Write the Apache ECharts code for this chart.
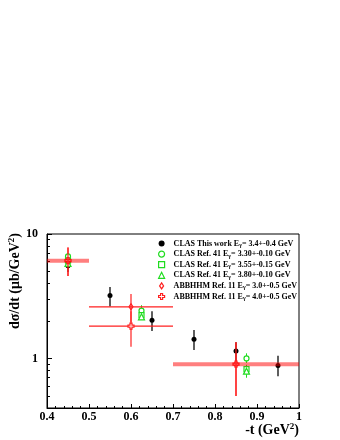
<!DOCTYPE html>
<html><head><meta charset="utf-8">
<script src="https://cdn.jsdelivr.net/npm/echarts@6/dist/echarts.min.js"></script>
<style>html,body{margin:0;padding:0;background:#fff}#c{width:340px;height:440px}</style>
</head><body><div id="c"></div>
<script>
const FONT = 'Liberation Serif';

// axis ticks
const xMin = 0.4, xMax = 1.0, xStep = 0.1;
const yMin = 0.4, yMax = 10;
const yMajorTicks = [1, 10];
const yMinorTicks = [0.5, 0.6, 0.7, 0.8, 0.9, 2, 3, 4, 5, 6, 7, 8, 9];

// CLAS this work (E = 3.4 +- 0.4 GeV)
const clasX  = [0.45, 0.55, 0.65, 0.75, 0.85, 0.95];
const clasY  = [5.55, 3.2, 2.03, 1.43, 1.15, 0.88];
const clasLo = [4.95, 2.62, 1.66, 1.17, 0.95, 0.72];
const clasHi = [6.2, 3.75, 2.4, 1.69, 1.35, 1.05];

// CLAS Ref. 41
const ref41X   = [0.45, 0.625, 0.875];
const ref330Y  = [6.6, 2.42, 1.0];
const ref330Lo = [6.2, 2.24, 0.92];
const ref330Hi = [7.0, 2.68, 1.1];
const ref355Y  = [6.1, 2.23, 0.82];
const ref355Lo = [5.75, 2.09, 0.75];
const ref355Hi = [6.45, 2.38, 0.89];
const ref380Y  = [5.8, 2.16, 0.79];
const ref380Lo = [5.45, 2.07, 0.70];
const ref380Hi = [6.15, 2.28, 0.86];

// ABBHHM Ref. 11
const abbX   = [0.45, 0.6, 0.85];
const abbXLo = [0.4, 0.5, 0.7];
const abbXHi = [0.5, 0.7, 1.0];
const abb30Y  = [6.1, 2.6, 0.9];
const abb30Lo = [4.6, 1.95, 0.5];
const abb30Hi = [7.8, 3.3, 1.35];
const abb40Y  = [6.1, 1.82, 0.9];
const abb40Lo = [4.6, 1.24, 0.5];
const abb40Hi = [7.8, 2.4, 1.35];

// legend text
const legendPre = ['CLAS This work E', 'CLAS Ref. 41 E', 'CLAS Ref. 41 E', 'CLAS Ref. 41 E', 'ABBHHM Ref. 11 E', 'ABBHHM Ref. 11 E'];
const legendSub = ['\u03b3', '\u03b3', '\u03b3', '\u03b3', '\u03b3', '\u03b3'];
const legendPost = ['= 3.4+-0.4 GeV', '= 3.30+-0.10 GeV', '= 3.55+-0.15 GeV', '= 3.80+-0.10 GeV', '= 3.0+-0.5 GeV', '= 4.0+-0.5 GeV'];
const names = legendPre.map((p, i) => p + legendSub[i] + legendPost[i]);

const BLACK = '#000';
const GREEN = '#1fdc1f';
const RED = '#ff2020';

function pts(xs, ys) { return xs.map((x, i) => [x, ys[i]]); }
function errData(xs, ys, lo, hi, xlo, xhi) {
  return xs.map((x, i) => [x, ys[i], lo[i], hi[i], xlo ? xlo[i] : x, xhi ? xhi[i] : x]);
}

// ABBHHM points where both energies coincide are drawn as a single wide band
const shared = abbX.map((x, i) => abb30Y[i] === abb40Y[i]);

function errRender(color, width, opts) {
  opts = opts || {};
  return function (params, api) {
    const i = params.dataIndex;
    const x = api.value(0), y = api.value(1);
    const a = api.coord([x, api.value(2)]), b = api.coord([x, api.value(3)]);
    const ch = [{ type: 'line', shape: { x1: a[0], y1: a[1], x2: b[0], y2: b[1] },
      style: { stroke: color, lineWidth: width } }];
    if (opts.horiz) {
      const l = api.coord([api.value(4), y]), r = api.coord([api.value(5), y]);
      if (shared[i]) {
        if (opts.band) ch.push({ type: 'line', shape: { x1: l[0], y1: l[1], x2: r[0], y2: r[1] },
          style: { stroke: 'rgba(255,0,0,0.5)', lineWidth: 4 }, z2: 50 });
      } else {
        ch.push({ type: 'line', shape: { x1: l[0], y1: l[1], x2: r[0], y2: r[1] },
          style: { stroke: color, lineWidth: width } });
      }
    }
    return { type: 'group', children: ch };
  };
}

function errSeries(id, data, color, width, z, opts) {
  return { type: 'custom', name: id, data: data, renderItem: errRender(color, width, opts),
    encode: { x: 0, y: 1 }, z: z, silent: true, clip: false };
}

const diamond = 'path://M0,-3L2,0L0,3L-2,0Z';
const cross = 'path://M-1,-3H1V-1H3V1H1V3H-1V1H-3V-1H-1Z';

const openGreen = { color: '#fff', borderColor: GREEN, borderWidth: 1.2, opacity: 1 };
const openRed = { color: '#fff', borderColor: RED, borderWidth: 1.2, opacity: 1 };
const legendIcons = ['circle', 'circle', 'rect', 'triangle', diamond, cross];
const legendStyles = [{ color: BLACK, borderWidth: 0 }, openGreen, openGreen, openGreen, openRed, openRed];

const option = {
  animation: false,
  backgroundColor: '#fff',
  grid: { left: 47, right: 41, top: 234, bottom: 32, show: true, borderColor: '#000', borderWidth: 1,
    backgroundColor: 'transparent', containLabel: false, outerBoundsMode: 'none' },
  xAxis: {
    type: 'value', min: xMin, max: xMax, interval: xStep,
    axisLine: { show: true, lineStyle: { color: '#000', width: 1 } },
    axisTick: { show: true, inside: true, length: 4, lineStyle: { color: '#000' } },
    minorTick: { show: true, splitNumber: 5, length: 2, lineStyle: { color: '#000' } },
    splitLine: { show: false },
    axisLabel: { color: '#000', fontFamily: FONT, fontWeight: 'bold', fontSize: 12, margin: 3,
      formatter: v => String(+v.toFixed(1)) }
  },
  yAxis: [{
    type: 'log', logBase: 10, min: yMin, max: yMax,
    axisLine: { show: true, lineStyle: { color: '#000', width: 1 } },
    axisTick: { show: true, inside: true, length: 5, customValues: yMajorTicks, lineStyle: { color: '#000' } },
    axisLabel: { customValues: yMajorTicks, color: '#000', fontFamily: FONT, fontWeight: 'bold', fontSize: 12, margin: 9,
      formatter: v => String(Math.round(v)) },
    splitLine: { show: false }
  }, {
    type: 'log', logBase: 10, min: yMin, max: yMax, position: 'left',
    axisLine: { show: false },
    axisTick: { show: true, inside: true, length: 3, customValues: yMinorTicks, lineStyle: { color: '#000' } },
    axisLabel: { show: false },
    splitLine: { show: false }
  }],
  legend: {
    data: names.map((n, i) => ({ name: n, icon: legendIcons[i], itemStyle: legendStyles[i] })),
    orient: 'vertical', left: 158, top: 238.5, padding: 0,
    itemWidth: 6, itemHeight: 6, itemGap: 0.6, selectedMode: false,
    formatter: n => { const i = names.indexOf(n); return '{t|' + legendPre[i] + '}{s|' + legendSub[i] + '}{u|' + legendPost[i] + '}'; },
    textStyle: { color: '#000', fontFamily: FONT, fontWeight: 'bold', fontSize: 8, lineHeight: 10,
      rich: { t: { fontFamily: FONT, fontWeight: 'bold', fontSize: 8, lineHeight: 10, color: '#000', padding: [0, 0, 0, 4] },
              u: { fontFamily: FONT, fontWeight: 'bold', fontSize: 8, lineHeight: 10, color: '#000' },
              s: { fontFamily: FONT, fontWeight: 'bold', fontSize: 6, lineHeight: 4, verticalAlign: 'bottom', color: '#000' } } }
  },
  graphic: [
    { type: 'text', x: 15, y: 281, rotation: Math.PI / 2, silent: true,
      style: { text: '{a|d\u03c3/dt (\u03bcb/GeV}{s|2}{a|)}', align: 'center', verticalAlign: 'middle', fill: '#000',
        rich: { a: { fontFamily: FONT, fontWeight: 'bold', fontSize: 14, lineHeight: 16 },
                s: { fontFamily: FONT, fontWeight: 'bold', fontSize: 9, lineHeight: 8, verticalAlign: 'top' } } } },
    { type: 'text', x: 299, y: 430, silent: true,
      style: { text: '{a|-t (GeV}{s|2}{a|)}', align: 'right', verticalAlign: 'middle', fill: '#000',
        rich: { a: { fontFamily: FONT, fontWeight: 'bold', fontSize: 14, lineHeight: 16 },
                s: { fontFamily: FONT, fontWeight: 'bold', fontSize: 9, lineHeight: 8, verticalAlign: 'top' } } } }
  ],
  series: [
    errSeries('e-clas', errData(clasX, clasY, clasLo, clasHi), '#1a1a1a', 1.4, 2),
    errSeries('e-330', errData(ref41X, ref330Y, ref330Lo, ref330Hi), GREEN, 1, 2),
    errSeries('e-355', errData(ref41X, ref355Y, ref355Lo, ref355Hi), GREEN, 1, 2),
    errSeries('e-380', errData(ref41X, ref380Y, ref380Lo, ref380Hi), GREEN, 1, 2),
    errSeries('e-ab30', errData(abbX, abb30Y, abb30Lo, abb30Hi, abbXLo, abbXHi), RED, 1.2, 6, { horiz: true, band: true }),
    errSeries('e-ab40', errData(abbX, abb40Y, abb40Lo, abb40Hi, abbXLo, abbXHi), RED, 1.2, 3, { horiz: true }),
    { type: 'scatter', name: names[0], data: pts(clasX, clasY), symbol: 'circle', symbolSize: 5, z: 4,
      itemStyle: { color: BLACK, opacity: 1 } },
    { type: 'scatter', name: names[1], data: pts(ref41X, ref330Y), symbol: 'circle', symbolSize: 5, z: 4, itemStyle: openGreen },
    { type: 'scatter', name: names[2], data: pts(ref41X, ref355Y), symbol: 'rect', symbolSize: 5, z: 4, itemStyle: openGreen },
    { type: 'scatter', name: names[3], data: pts(ref41X, ref380Y), symbol: 'triangle', symbolSize: 6, z: 4, itemStyle: openGreen },
    { type: 'scatter', name: names[4], data: pts(abbX, abb30Y), symbol: diamond, symbolSize: [4, 6], z: 4, itemStyle: openRed },
    { type: 'scatter', name: names[5], data: pts(abbX, abb40Y), symbol: cross, symbolSize: 6, z: 4, itemStyle: openRed }
  ]
};
const chart = echarts.init(document.getElementById('c'), null, { renderer: 'canvas' });
chart.setOption(option);
</script></body></html>
